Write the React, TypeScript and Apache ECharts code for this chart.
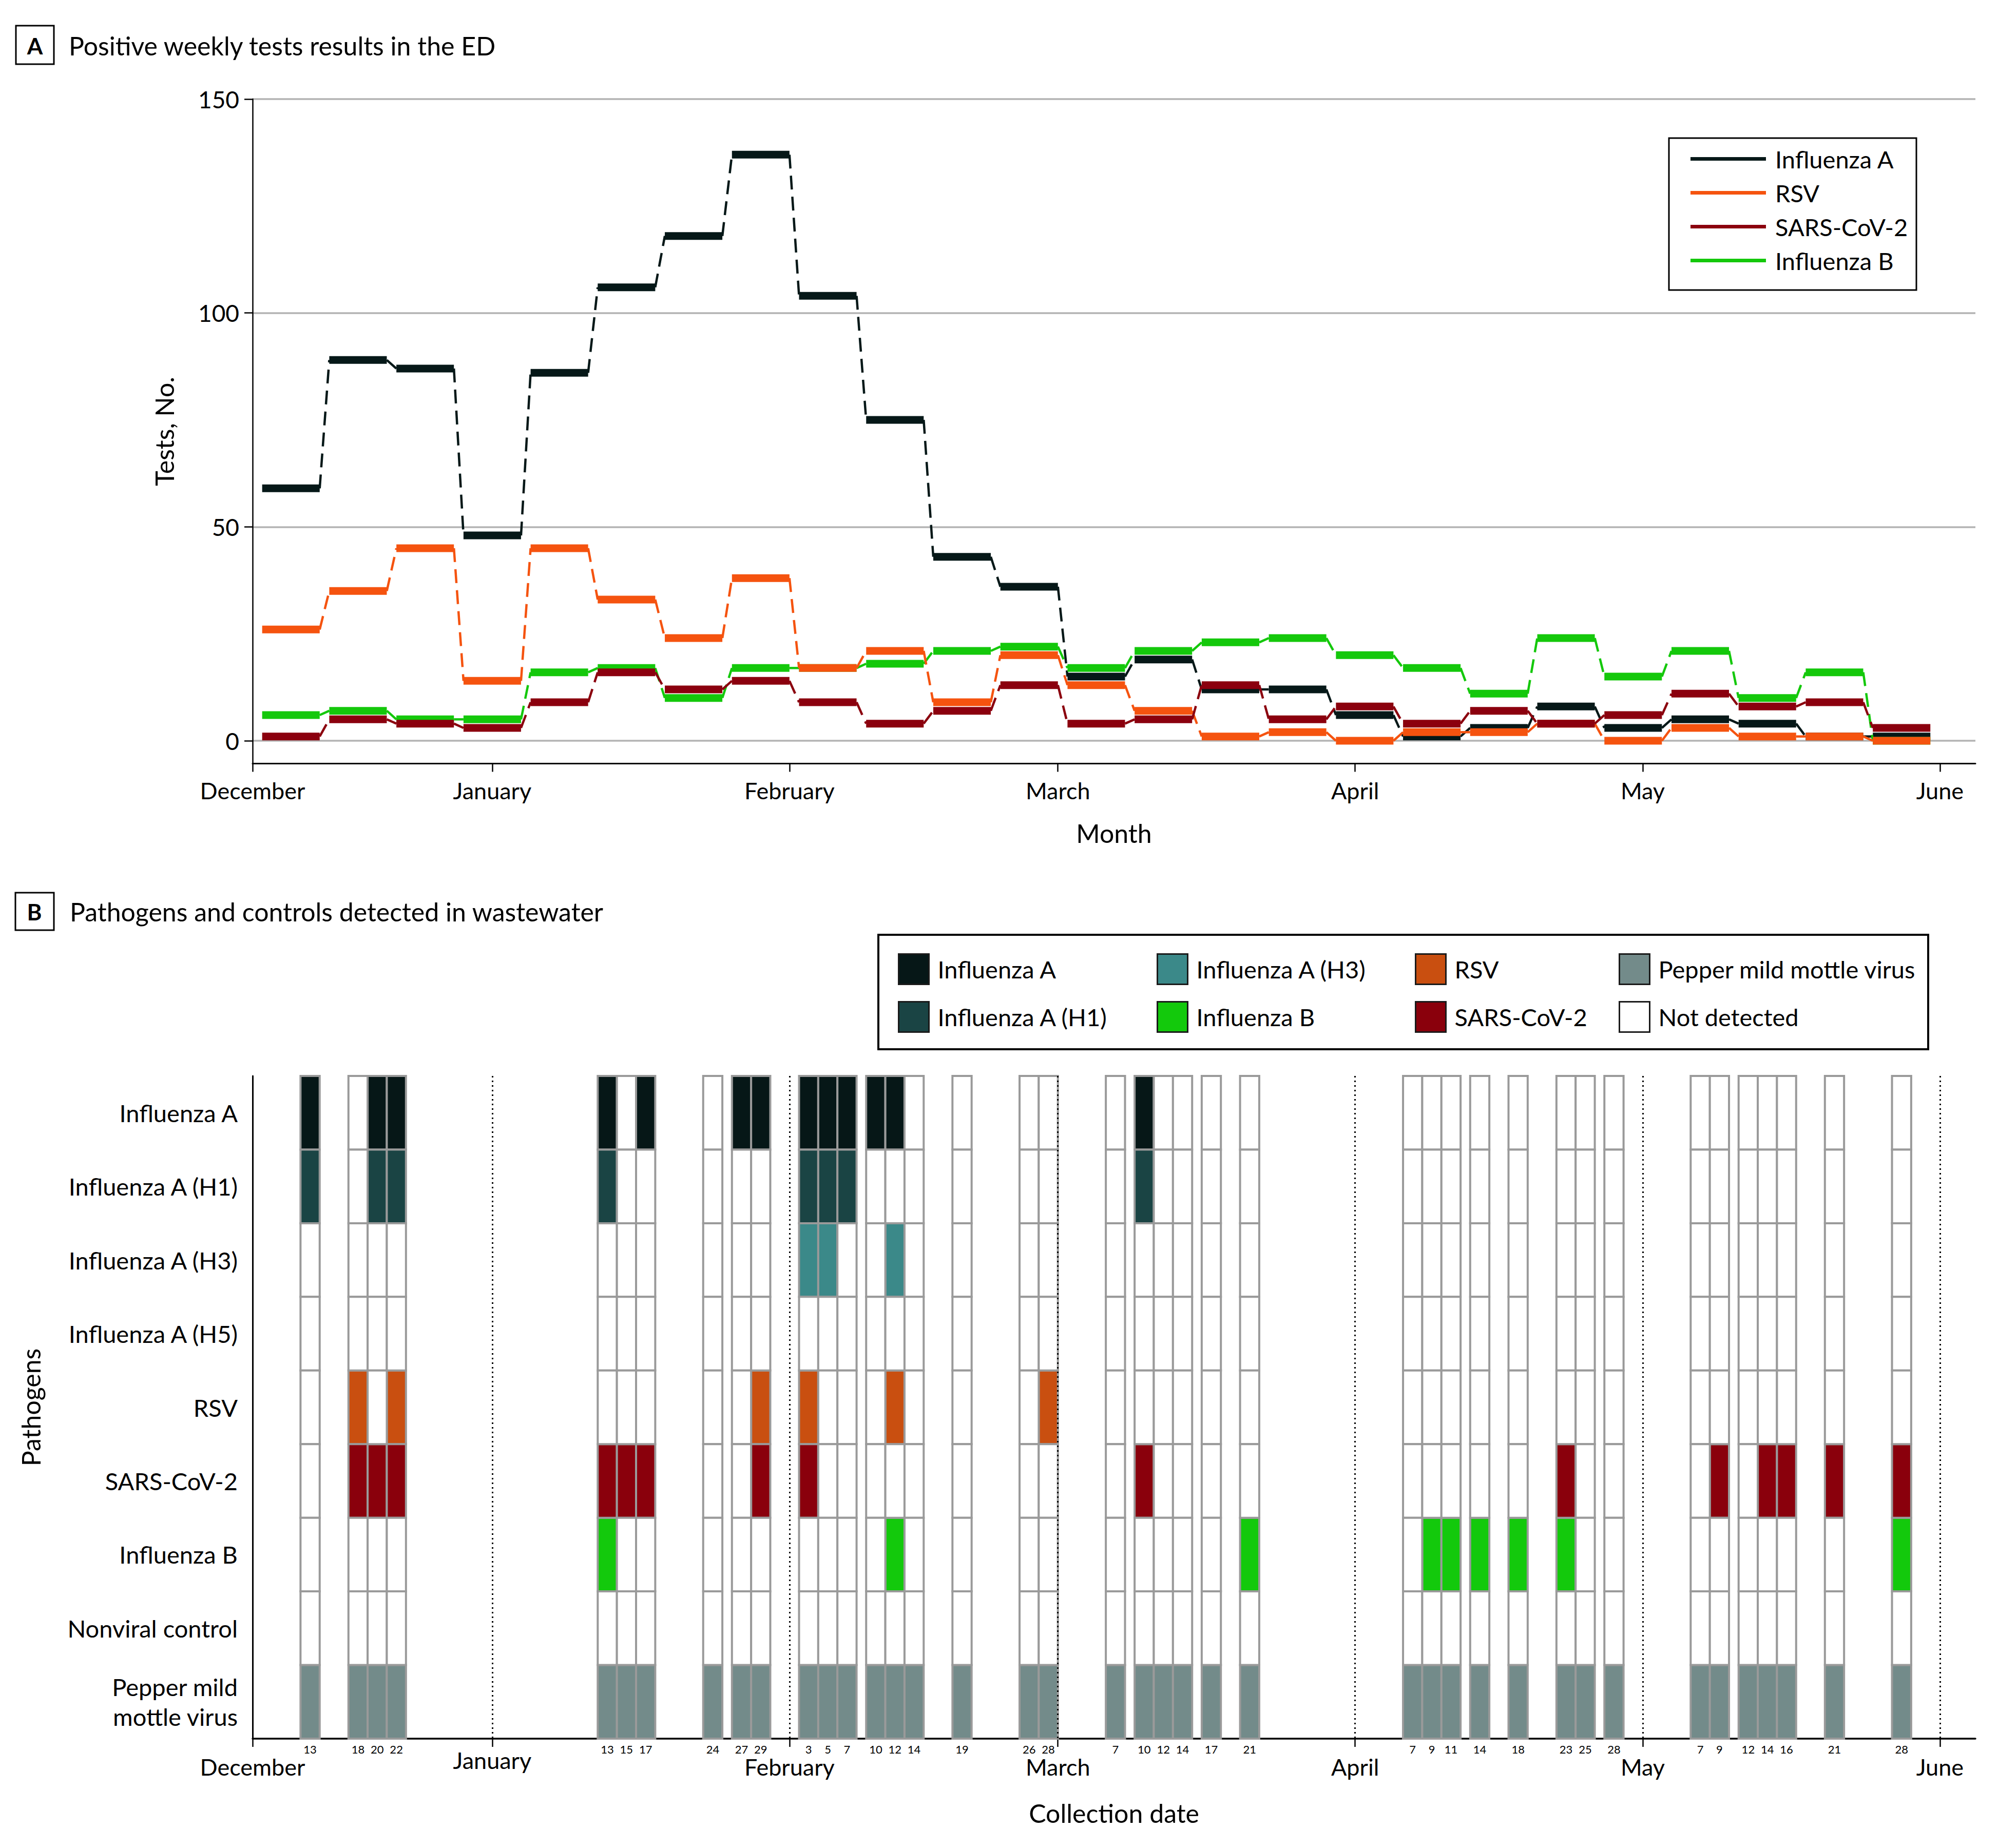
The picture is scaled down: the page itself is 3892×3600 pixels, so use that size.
import React, { useEffect, useRef } from "react";
import * as echarts from "echarts";

const FONT = "Lato, 'Open Sans', sans-serif";

// ---------- date helpers (day index counted from Dec 1) ----------
const monthOffsets: Record<number, number> = { 12: 0, 1: 31, 2: 62, 3: 90, 4: 121, 5: 151, 6: 182 };
const dayIndex = (md: string) => {
  const [m, d] = md.split("-").map(Number);
  return monthOffsets[m] + d - 1;
};
const X_MIN = 6;
const X_MAX = 185.7;

// ---------- Panel A: positive weekly tests in the ED ----------
const weekStarts = [
  "12-08", "12-15", "12-22", "12-29", "01-05", "01-12", "01-19", "01-26",
  "02-02", "02-09", "02-16", "02-23", "03-02", "03-09", "03-16", "03-23",
  "03-30", "04-06", "04-13", "04-20", "04-27", "05-04", "05-11", "05-18", "05-25",
];
const edSeriesNames = ["Influenza A", "RSV", "SARS-CoV-2", "Influenza B"];
const edFluA = [59, 89, 87, 48, 86, 106, 118, 137, 104, 75, 43, 36, 15, 19, 12, 12, 6, 1, 3, 8, 3, 5, 4, 1, 1];
const edRSV = [26, 35, 45, 14, 45, 33, 24, 38, 17, 21, 9, 20, 13, 7, 1, 2, 0, 2, 2, 4, 0, 3, 1, 1, 0];
const edSARS = [1, 5, 4, 3, 9, 16, 12, 14, 9, 4, 7, 13, 4, 5, 13, 5, 8, 4, 7, 4, 6, 11, 8, 9, 3];
const edFluB = [6, 7, 5, 5, 16, 17, 10, 17, 17, 18, 21, 22, 17, 21, 23, 24, 20, 17, 11, 24, 15, 21, 10, 16, 0];
const edValues = [edFluA, edRSV, edSARS, edFluB];
const edColors = ["#061818", "#f5530f", "#8b000e", "#14c80b"];
const edDrawOrder = [0, 3, 1, 2];

const yTicks = [0, 50, 100, 150];
const monthNames = ["December", "January", "February", "March", "April", "May", "June"];
const monthDates = ["12-07", "01-01", "02-01", "03-01", "04-01", "05-01", "06-01"];

// ---------- Panel B: wastewater detections ----------
const sampleDates = [
  "12-13", "12-18", "12-20", "12-22",
  "01-13", "01-15", "01-17", "01-24", "01-27", "01-29",
  "02-03", "02-05", "02-07", "02-10", "02-12", "02-14", "02-19", "02-26", "02-28",
  "03-07", "03-10", "03-12", "03-14", "03-17", "03-21",
  "04-07", "04-09", "04-11", "04-14", "04-18", "04-23", "04-25", "04-28",
  "05-07", "05-09", "05-12", "05-14", "05-16", "05-21", "05-28",
];
const rowNames = [
  "Influenza A", "Influenza A (H1)", "Influenza A (H3)", "Influenza A (H5)", "RSV",
  "SARS-CoV-2", "Influenza B", "Nonviral control", "Pepper mild\nmottle virus",
];
const wwFluA = ["12-13", "12-20", "12-22", "01-13", "01-17", "01-27", "01-29", "02-03", "02-05", "02-07", "02-10", "02-12", "03-10"];
const wwH1 = ["12-13", "12-20", "12-22", "01-13", "02-03", "02-05", "02-07", "03-10"];
const wwH3 = ["02-03", "02-05", "02-12"];
const wwH5: string[] = [];
const wwRSV = ["12-18", "12-22", "01-29", "02-03", "02-12", "02-28"];
const wwSARS = ["12-18", "12-20", "12-22", "01-13", "01-15", "01-17", "01-29", "02-03", "03-10", "04-23", "05-09", "05-14", "05-16", "05-21", "05-28"];
const wwFluB = ["01-13", "02-12", "03-21", "04-09", "04-11", "04-14", "04-18", "04-23", "05-28"];
const wwNonviral: string[] = [];
const wwPMMV = sampleDates;
const detections = [wwFluA, wwH1, wwH3, wwH5, wwRSV, wwSARS, wwFluB, wwNonviral, wwPMMV];
const rowState = [
  "Influenza A", "Influenza A (H1)", "Influenza A (H3)", "Influenza A (H5)", "RSV",
  "SARS-CoV-2", "Influenza B", "Nonviral control", "Pepper mild mottle virus",
];
const stateNames = [
  "Influenza A", "Influenza A (H1)", "Influenza A (H3)", "Influenza B", "RSV",
  "SARS-CoV-2", "Pepper mild mottle virus", "Not detected",
];
const stateColors = ["#061717", "#1a4444", "#3b8989", "#13c90c", "#c94f10", "#8a000c", "#738b8a", "#ffffff"];
const legendColumns = [
  ["Influenza A", "Influenza A (H1)"],
  ["Influenza A (H3)", "Influenza B"],
  ["RSV", "SARS-CoV-2"],
  ["Pepper mild mottle virus", "Not detected"],
];
const legendColumnLeft = [1744, 2248, 2751, 3148];

function buildOption(): any {
  const monthDays = monthDates.map(dayIndex);
  const monthLabel = (v: number) => {
    const i = monthDays.findIndex((d) => Math.abs(d - v) < 0.01);
    return i >= 0 ? monthNames[i] : "";
  };
  const sampleDays = sampleDates.map(dayIndex);
  const sampleLabel = (v: number) => {
    const i = sampleDays.findIndex((d) => Math.abs(d - v) < 0.01);
    return i >= 0 ? String(Number(sampleDates[i].split("-")[1])) : "";
  };

  const txt = { fontFamily: FONT, color: "#000" };

  // Panel A series
  const edSeries = edDrawOrder.map((k) => {
    const vals = edValues[k];
    const color = edColors[k];
    return {
      type: "custom",
      name: edSeriesNames[k],
      xAxisIndex: 0,
      yAxisIndex: 0,
      silent: true,
      clip: false,
      z: 3,
      itemStyle: { color },
      encode: { x: 0, y: 1 },
      data: weekStarts.map((w, i) => [dayIndex(w), vals[i]]),
      renderItem: (params: any, api: any) => {
        const i = params.dataIndex;
        const s = api.value(0);
        const v = api.value(1);
        const a = api.coord([s, v]);
        const b = api.coord([s + 6, v]);
        const children: any[] = [
          {
            type: "line",
            shape: { x1: a[0], y1: a[1], x2: b[0], y2: b[1] },
            style: { stroke: color, lineWidth: 15, lineCap: "butt" },
          },
        ];
        if (i < vals.length - 1) {
          const c = api.coord([dayIndex(weekStarts[i + 1]), vals[i + 1]]);
          children.push({
            type: "line",
            shape: { x1: b[0], y1: b[1], x2: c[0], y2: c[1] },
            style: { stroke: color, lineWidth: 4.5, lineDash: [27, 14], fill: null },
          });
        }
        return { type: "group", children };
      },
    };
  });

  // Panel B series: one per detection state
  const cellsByState: Record<string, number[][]> = {};
  stateNames.forEach((n) => (cellsByState[n] = []));
  sampleDates.forEach((date) => {
    rowNames.forEach((_, r) => {
      const detected = detections[r].includes(date);
      const st = detected && cellsByState[rowState[r]] ? rowState[r] : "Not detected";
      cellsByState[st].push([dayIndex(date), r]);
    });
  });
  const wwSeries = stateNames.map((n, si) => {
    const color = stateColors[si];
    const s: any = {
      type: "custom",
      name: n,
      xAxisIndex: 1,
      yAxisIndex: 1,
      silent: true,
      clip: false,
      z: 3,
      itemStyle: { color },
      encode: { x: 0, y: 1 },
      data: cellsByState[n],
      renderItem: (params: any, api: any) => {
        const d = api.value(0);
        const r = api.value(1);
        const p0 = api.coord([d - 1, r]);
        const p1 = api.coord([d + 1, r]);
        const h = api.size([0, 1])[1];
        return {
          type: "rect",
          shape: { x: p0[0], y: p0[1] - h / 2, width: p1[0] - p0[0], height: h },
          style: { fill: color, stroke: "#9a9a9a", lineWidth: 4 },
        };
      },
    };
    if (n === "Not detected") {
      s.markLine = {
        silent: true,
        symbol: ["none", "none"],
        label: { show: false },
        z: 4,
        lineStyle: { color: "#000", width: 3, type: [3, 6] },
        data: monthDays.slice(1).map((d) => ({ xAxis: d })),
      };
    }
    return s;
  });

  const legendB = legendColumns.map((col, ci) => ({
    orient: "vertical",
    left: legendColumnLeft[ci],
    top: 1852,
    icon: "rect",
    itemWidth: 59,
    itemHeight: 59,
    itemGap: 31,
    selectedMode: false,
    textStyle: { ...txt, fontSize: 47, padding: [0, 0, 0, 12] },
    data: col.map((name) => ({
      name,
      itemStyle: {
        color: stateColors[stateNames.indexOf(name)],
        borderColor: "#1a1a1a",
        borderWidth: 3,
      },
    })),
  }));

  return {
    animation: false,
    backgroundColor: "#ffffff",
    textStyle: { fontFamily: FONT },
    grid: [
      { left: 492, top: 193, width: 3356, height: 1294.5, outerBoundsMode: "none", containLabel: false },
      { left: 492, top: 2096, width: 3356, height: 1291, outerBoundsMode: "none", containLabel: false },
    ],
    legend: [
      {
        orient: "vertical",
        left: 3288,
        top: 281,
        icon: "rect",
        itemWidth: 147,
        itemHeight: 7,
        itemGap: 19,
        selectedMode: false,
        textStyle: { ...txt, fontSize: 47, lineHeight: 47, padding: [0, 0, 0, 13] },
        data: edSeriesNames.map((name, i) => ({ name, itemStyle: { color: edColors[i], borderWidth: 0 } })),
      },
      ...legendB,
    ],
    xAxis: [
      {
        gridIndex: 0,
        type: "value",
        min: X_MIN,
        max: X_MAX,
        position: "bottom",
        axisLine: { show: true, onZero: false, lineStyle: { color: "#000", width: 3 } },
        axisTick: { show: true, length: 16, customValues: monthDays, lineStyle: { color: "#000", width: 2.5 } },
        axisLabel: { ...txt, fontSize: 45, margin: 30, customValues: monthDays, formatter: monthLabel, showMinLabel: true, showMaxLabel: true },
        splitLine: { show: false },
        name: "Month",
        nameLocation: "middle",
        nameGap: 110,
        nameTextStyle: { ...txt, fontSize: 50 },
      },
      {
        gridIndex: 1,
        type: "value",
        min: X_MIN,
        max: X_MAX,
        position: "bottom",
        axisLine: { show: true, onZero: false, lineStyle: { color: "#000", width: 3.5 } },
        axisTick: { show: true, length: 16, customValues: monthDays, lineStyle: { color: "#000", width: 2.5 } },
        axisLabel: {
          ...txt,
          fontSize: 45,
          margin: 32,
          customValues: monthDays.filter((_, i) => i !== 1),
          formatter: monthLabel,
          showMinLabel: true,
          showMaxLabel: true,
        },
        splitLine: { show: false },
        name: "Collection date",
        nameLocation: "middle",
        nameGap: 120,
        nameTextStyle: { ...txt, fontSize: 50 },
      },
      {
        gridIndex: 1,
        type: "value",
        min: X_MIN,
        max: X_MAX,
        position: "bottom",
        axisLine: { show: false, onZero: false },
        axisTick: { show: false },
        axisLabel: { ...txt, fontSize: 45, margin: 19, customValues: [monthDays[1]], formatter: monthLabel },
        splitLine: { show: false },
      },
      {
        gridIndex: 1,
        type: "value",
        min: X_MIN,
        max: X_MAX,
        position: "bottom",
        axisLine: { show: false, onZero: false },
        axisTick: { show: false },
        axisLabel: { ...txt, fontSize: 22, margin: 9, customValues: sampleDays, formatter: sampleLabel },
        splitLine: { show: false },
      },
    ],
    yAxis: [
      {
        gridIndex: 0,
        type: "value",
        min: -5.34,
        max: 150,
        axisLine: { show: true, onZero: false, lineStyle: { color: "#000", width: 2.5 } },
        axisTick: { show: true, length: 16, customValues: yTicks, lineStyle: { color: "#000", width: 2.5 } },
        axisLabel: { ...txt, fontSize: 46, margin: 26, customValues: yTicks },
        splitLine: { show: true, lineStyle: { color: "#b3b3b3", width: 3.5 } },
        name: "Tests, No.",
        nameLocation: "middle",
        nameGap: 147,
        nameTextStyle: { ...txt, fontSize: 50 },
      },
      {
        gridIndex: 1,
        type: "category",
        inverse: true,
        data: rowNames,
        axisLine: { show: true, onZero: false, lineStyle: { color: "#000", width: 3 } },
        axisTick: { show: false },
        axisLabel: { ...txt, fontSize: 47, margin: 29, lineHeight: 58 },
        splitLine: { show: false },
        name: "Pathogens",
        nameLocation: "middle",
        nameGap: 407,
        nameTextStyle: { ...txt, fontSize: 50 },
      },
    ],
    graphic: [
      { type: "rect", shape: { x: 31, y: 50, width: 74, height: 75 }, style: { fill: "none", stroke: "#000", lineWidth: 3 } },
      {
        type: "text", x: 68, y: 89,
        style: { text: "A", fontSize: 44, fontWeight: "bold", fontFamily: FONT, fill: "#000", align: "center", verticalAlign: "middle", textAlign: "center", textVerticalAlign: "middle" },
      },
      {
        type: "text", x: 134, y: 89,
        style: { text: "Positive weekly tests results in the ED", fontSize: 50, fontFamily: FONT, fill: "#000", verticalAlign: "middle", textVerticalAlign: "middle" },
      },
      { type: "rect", shape: { x: 30, y: 1739, width: 75, height: 73 }, style: { fill: "none", stroke: "#000", lineWidth: 3 } },
      {
        type: "text", x: 67, y: 1776,
        style: { text: "B", fontSize: 44, fontWeight: "bold", fontFamily: FONT, fill: "#000", align: "center", verticalAlign: "middle", textAlign: "center", textVerticalAlign: "middle" },
      },
      {
        type: "text", x: 136, y: 1776,
        style: { text: "Pathogens and controls detected in wastewater", fontSize: 50, fontFamily: FONT, fill: "#000", verticalAlign: "middle", textVerticalAlign: "middle" },
      },
      { type: "rect", shape: { x: 3251, y: 269, width: 482, height: 296 }, style: { fill: "none", stroke: "#000", lineWidth: 3 } },
      { type: "rect", shape: { x: 1711, y: 1821, width: 2045, height: 223 }, style: { fill: "none", stroke: "#000", lineWidth: 4 } },
    ],
    series: [...edSeries, ...wwSeries],
  };
}

export default function App() {
  const ref = useRef<HTMLDivElement>(null);
  useEffect(() => {
    document.body.style.margin = "0";
    const chart = echarts.init(ref.current as HTMLDivElement, null, { renderer: "svg" });
    chart.setOption(buildOption());
    return () => {
      chart.dispose();
    };
  }, []);
  return <div ref={ref} style={{ width: 3892, height: 3600, background: "#fff" }} />;
}
